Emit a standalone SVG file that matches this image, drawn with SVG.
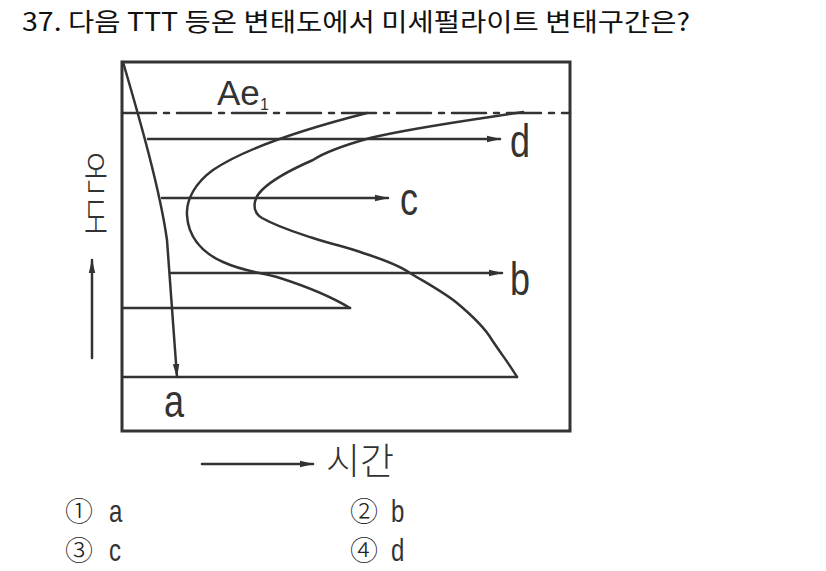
<svg xmlns="http://www.w3.org/2000/svg" width="826" height="571" viewBox="0 0 826 571">
<defs>
<style>
.ln{stroke:#333;stroke-width:2.5;fill:none;stroke-linecap:round}
.fr{stroke:#333;stroke-width:3;fill:none}
.lt{font-family:"Liberation Sans",Arial,sans-serif;fill:#333}
.kr{font-family:"Noto Sans CJK KR","Noto Sans",sans-serif;fill:#111}
.ax{font-family:"Noto Sans CJK KR","Noto Sans",sans-serif;fill:#333;font-weight:300}
.op{font-family:"Noto Sans CJK KR","Liberation Sans",sans-serif;fill:#222;font-weight:300}
</style>
<marker id="ah" markerWidth="14" markerHeight="8" refX="13" refY="4" orient="auto" markerUnits="userSpaceOnUse"><path d="M0,0.8 L14,4 L0,7.2 Z" fill="#333"/></marker>
</defs>
<rect width="826" height="571" fill="#fff"/>
<text class="kr" x="22" y="31" font-size="25" textLength="668" lengthAdjust="spacingAndGlyphs">37. 다음 TTT 등온 변태도에서 미세펄라이트 변태구간은?</text>
<g id="frame">
<rect class="fr" x="122" y="62" width="448" height="369"/>
</g>
<g id="ae1">
<path class="ln" d="M122,113 H570" stroke-dasharray="34 8 5 8" stroke-linecap="butt"/>
<text class="lt" x="217" y="105" font-size="35">Ae</text>
<text class="lt" x="260" y="110" font-size="16">1</text>
</g>
<g id="curves">
<path class="ln" d="M367,113 C320,125 250,145 213,170 C195,183 186,200 187,215 C188,235 200,252 223,262 C245,272 260,272 280,278 C305,286 330,296 350,308"/>
<path class="ln" d="M523,112 C470,120 410,128 370,138 C345,145 325,152 313,160 C290,170 272,180 262,190 C252,200 252,212 262,218 C280,228 295,232 313,238 C335,245 350,248 363,253 C385,260 400,266 410,273 C430,285 445,293 457,303 C475,318 485,328 492,340 C502,355 510,365 517,377"/>
</g>
<g id="connectors">
<path class="ln" d="M123,62 C140,120 160,190 167,240 L177,377" marker-end="url(#ah)"/>
<path class="ln" d="M148,139 H500" marker-end="url(#ah)"/>
<path class="ln" d="M162,198 H388" marker-end="url(#ah)"/>
<path class="ln" d="M171,273 H502" marker-end="url(#ah)"/>
<path class="ln" d="M123,308 H350"/>
<path class="ln" d="M123,377 H517"/>
<path class="ln" d="M202,464 H313" marker-end="url(#ah)"/>
<path class="ln" d="M92,358 V260" marker-end="url(#ah)"/>
</g>
<g id="labels">
<text class="lt" transform="translate(510,157) scale(1,1.3)" font-size="36">d</text>
<text class="lt" transform="translate(400,215) scale(1,1.3)" font-size="36">c</text>
<text class="lt" transform="translate(510,295) scale(1,1.3)" font-size="36">b</text>
<text class="lt" transform="translate(164,417) scale(1,1.3)" font-size="36">a</text>
<text class="ax" x="326" y="475" font-size="37">시간</text>
<text class="ax" transform="translate(96,151) scale(1,1.7)" x="0" y="0" font-size="26" writing-mode="vertical-rl">온도</text>
</g>
<g id="options">
<text class="op" x="65" y="522" font-size="28">①</text>
<text class="lt" transform="translate(109,522) scale(1,1.3)" font-size="24">a</text>
<text class="op" x="350" y="522" font-size="28">②</text>
<text class="lt" transform="translate(391,522) scale(1,1.3)" font-size="24">b</text>
<text class="op" x="65" y="561" font-size="28">③</text>
<text class="lt" transform="translate(109,561) scale(1,1.3)" font-size="24">c</text>
<text class="op" x="350" y="561" font-size="28">④</text>
<text class="lt" transform="translate(391,561) scale(1,1.3)" font-size="24">d</text>
</g>
</svg>
